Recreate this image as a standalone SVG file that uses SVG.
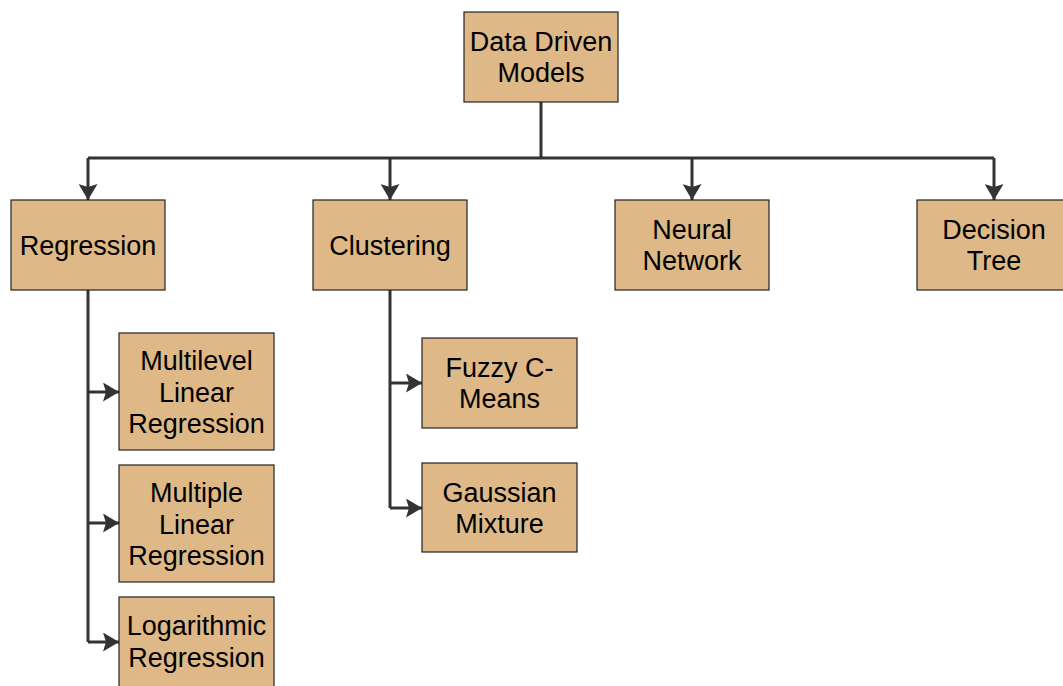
<svg xmlns="http://www.w3.org/2000/svg" width="1063" height="686" viewBox="0 0 1063 686">
  <defs>
    <marker id="arrow" viewBox="0 0 16 19" refX="16" refY="9.5" markerWidth="16" markerHeight="19" markerUnits="userSpaceOnUse" orient="auto">
      <path d="M0,0 L16,9.5 L0,19 L3,9.5 Z" fill="#333333"/>
    </marker>
    <style>
      .box { fill: #DEB887; stroke: #222222; stroke-width: 1.2; }
      .lbl { font-family: "Liberation Sans", Arial, sans-serif; font-size: 27px; fill: #000000; text-anchor: middle; }
      .link { fill: none; stroke: #333333; stroke-width: 3; }
      .arr { marker-end: url(#arrow); }
    </style>
  </defs>
  <rect width="1063" height="686" fill="#ffffff"/>

  <!-- connectors -->
  <g id="connectors">
    <path class="link" d="M541,102 V158"/>
    <path class="link" d="M88,158 H994"/>
    <path class="link arr" d="M88,158 V200"/>
    <path class="link arr" d="M390,158 V200"/>
    <path class="link arr" d="M692,158 V200"/>
    <path class="link arr" d="M994,158 V200"/>
    <path class="link" d="M88,290 V642"/>
    <path class="link arr" d="M88,392 H119"/>
    <path class="link arr" d="M88,523 H119"/>
    <path class="link arr" d="M88,642 H119"/>
    <path class="link" d="M390,290 V508"/>
    <path class="link arr" d="M390,383 H422"/>
    <path class="link arr" d="M390,508 H422"/>
  </g>

  <g id="data-driven-models">
    <rect class="box" x="464" y="12" width="154" height="90"/>
    <text class="lbl" x="541" y="50.5">Data Driven</text>
    <text class="lbl" x="541" y="81.5">Models</text>
  </g>

  <g id="regression">
    <rect class="box" x="11" y="200" width="154" height="90"/>
    <text class="lbl" x="88" y="254.5">Regression</text>
  </g>

  <g id="clustering">
    <rect class="box" x="313" y="200" width="154" height="90"/>
    <text class="lbl" x="390" y="254.5">Clustering</text>
  </g>

  <g id="neural-network">
    <rect class="box" x="615" y="200" width="154" height="90"/>
    <text class="lbl" x="692" y="239">Neural</text>
    <text class="lbl" x="692" y="270">Network</text>
  </g>

  <g id="decision-tree">
    <rect class="box" x="917" y="200" width="154" height="90"/>
    <text class="lbl" x="994" y="239">Decision</text>
    <text class="lbl" x="994" y="270">Tree</text>
  </g>

  <g id="multilevel-linear-regression">
    <rect class="box" x="119" y="333" width="155" height="117"/>
    <text class="lbl" x="196.5" y="370">Multilevel</text>
    <text class="lbl" x="196.5" y="401.5">Linear</text>
    <text class="lbl" x="196.5" y="433">Regression</text>
  </g>

  <g id="multiple-linear-regression">
    <rect class="box" x="119" y="465" width="155" height="117"/>
    <text class="lbl" x="196.5" y="502">Multiple</text>
    <text class="lbl" x="196.5" y="533.5">Linear</text>
    <text class="lbl" x="196.5" y="565">Regression</text>
  </g>

  <g id="logarithmic-regression">
    <rect class="box" x="119" y="597" width="155" height="92"/>
    <text class="lbl" x="196.5" y="635">Logarithmic</text>
    <text class="lbl" x="196.5" y="667">Regression</text>
  </g>

  <g id="fuzzy-c-means">
    <rect class="box" x="422" y="338" width="155" height="90"/>
    <text class="lbl" x="499.5" y="377">Fuzzy C-</text>
    <text class="lbl" x="499.5" y="408">Means</text>
  </g>

  <g id="gaussian-mixture">
    <rect class="box" x="422" y="463" width="155" height="89"/>
    <text class="lbl" x="499.5" y="501.5">Gaussian</text>
    <text class="lbl" x="499.5" y="532.5">Mixture</text>
  </g>
</svg>
